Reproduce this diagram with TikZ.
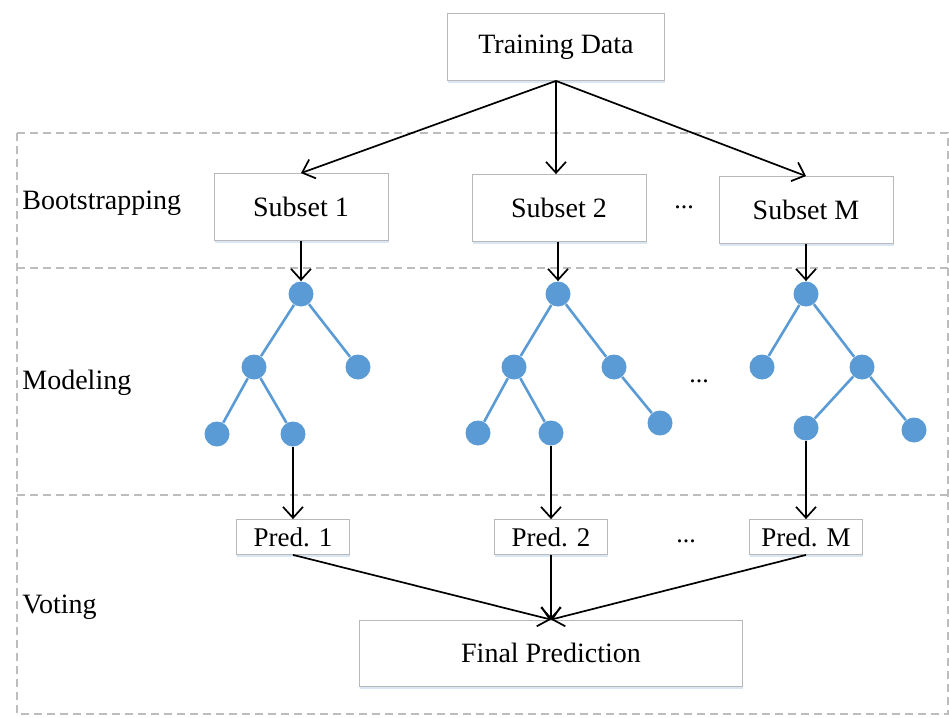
\documentclass[tikz,border=0pt]{standalone}
\usepackage{fontspec}
\setmainfont{Liberation Serif}
\usepackage{tikz}
\usetikzlibrary{arrows.meta, positioning, shadows}
\definecolor{rfgray}{HTML}{B8B8B8}
\definecolor{rfdash}{HTML}{BDBDBD}
\definecolor{rfblue}{HTML}{5B9BD5}
\definecolor{rfshadow}{HTML}{C9DCF0}
\tikzset{
  rbox/.style={draw=rfgray, fill=white, thin, inner sep=0pt, align=center,
    drop shadow={shadow xshift=0.4pt, shadow yshift=-1.4pt, fill=rfshadow, opacity=0.7},
    font=\fontsize{14}{16}\selectfont},
  rsubset/.style={rbox, minimum width=87pt, minimum height=33.5pt},
  rpred/.style={rbox, minimum width=56.5pt, minimum height=17.5pt, font=\fontsize{13.5}{15}\selectfont},
  rleaf/.style={circle, fill=rfblue, inner sep=0pt, minimum size=12.5pt},
  redge/.style={rfblue, line width=1.3pt},
  rflow/.style={-{Straight Barb[length=5.5pt, width=10pt]}, black, line width=0.85pt},
  rlbl/.style={anchor=west, inner sep=0pt, font=\fontsize{14}{16}\selectfont},
  rdots/.style={inner sep=0pt, font=\fontsize{13}{15}\selectfont},
  rframe/.style={draw=rfdash, line width=0.6pt, dash pattern=on 4pt off 2.5pt},
}
\begin{document}
\begin{tikzpicture}[x=0.5pt, y=-0.5pt]
  \useasboundingbox (0,0) rectangle (949,718);
  % stage frame
  \draw[rframe] (17,133) rectangle (948,714);
  \draw[rframe] (17,268) -- (948,268);
  \draw[rframe] (17,495) -- (948,495);
  \node[rlbl] (lboot) at (22,203) {Bootstrapping};
  \node[rlbl] (lmodel) at (22,383) {Modeling};
  \node[rlbl] (lvote) at (22,607) {Voting};
  % data and subsets
  \node[rbox, minimum width=108.5pt, minimum height=33.5pt] (data) at (556,47) {Training Data};
  \node[rsubset] (sub1) at (301,207) {Subset 1};
  \node[rsubset] (sub2) at (559,208) {Subset 2};
  \node[rsubset] (subM) at (806,210) {Subset M};
  \node[rdots] (dotsS) at (684,207) {...};
  \draw[rflow] (data.south) -- (sub1.north);
  \draw[rflow] (data.south) -- (data.south |- sub2.north);
  \draw[rflow] (data.south) -- (subM.north);
  % tree 1
  \node[rleaf] (ta) at (301,294) {};
  \node[rleaf] (tal) at (254,367) {};
  \node[rleaf] (tar) at (358,367) {};
  \node[rleaf] (tall) at (217,434) {};
  \node[rleaf] (talr) at (293,434) {};
  \draw[redge] (ta) -- (tal) (ta) -- (tar) (tal) -- (tall) (tal) -- (talr);
  % tree 2
  \node[rleaf] (tb) at (558,294) {};
  \node[rleaf] (tbl) at (514,367) {};
  \node[rleaf] (tbr) at (614,367) {};
  \node[rleaf] (tbll) at (478,433) {};
  \node[rleaf] (tblr) at (551,433) {};
  \node[rleaf] (tbrr) at (660,423) {};
  \draw[redge] (tb) -- (tbl) (tb) -- (tbr) (tbl) -- (tbll) (tbl) -- (tblr) (tbr) -- (tbrr);
  % tree M
  \node[rleaf] (tc) at (806,294) {};
  \node[rleaf] (tcl) at (762,367) {};
  \node[rleaf] (tcr) at (862,367) {};
  \node[rleaf] (tcrl) at (806,428) {};
  \node[rleaf] (tcrr) at (914,430) {};
  \draw[redge] (tc) -- (tcl) (tc) -- (tcr) (tcr) -- (tcrl) (tcr) -- (tcrr);
  \node[rdots] (dotsT) at (699,381) {...};
  \draw[rflow] (sub1.south) -- (ta);
  \draw[rflow] (sub2.south -| tb) -- (tb);
  \draw[rflow] (subM.south) -- (tc);
  % predictions
  \node[rpred] (pred1) at (293,537) {Pred. 1};
  \node[rpred] (pred2) at (551,537) {Pred. 2};
  \node[rpred] (predM) at (806,537) {Pred. M};
  \node[rdots] (dotsP) at (686,541) {...};
  \draw[rflow] (talr) -- (pred1.north);
  \draw[rflow] (tblr) -- (pred2.north);
  \draw[rflow] (tcrl) -- (predM.north);
  % voting
  \node[rbox, minimum width=191.5pt, minimum height=33pt] (final) at (551,653) {Final Prediction};
  \draw[rflow] (pred1.south) -- (final.north);
  \draw[rflow] (pred2.south) -- (final.north);
  \draw[rflow] (predM.south) -- (final.north);
\end{tikzpicture}
\end{document}
